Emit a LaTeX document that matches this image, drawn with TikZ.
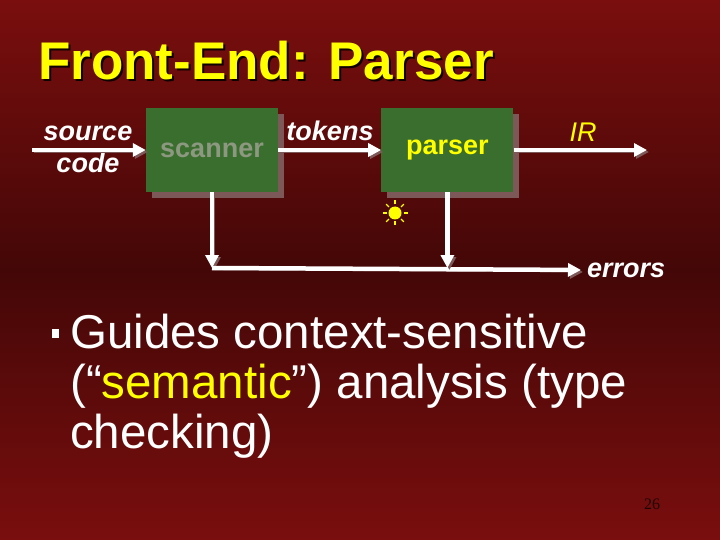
\documentclass[tikz,border=0pt]{standalone}
\usepackage{fontspec}
\setmainfont{Liberation Sans}
\newfontfamily\numfont{Liberation Serif}
\usetikzlibrary{arrows.meta, positioning, shadows}
\definecolor{slidered}{RGB}{122,14,14}
\definecolor{slidedark}{RGB}{68,7,7}
\definecolor{boxgreen}{RGB}{58,110,46}
\definecolor{boxshadow}{RGB}{125,88,88}
\definecolor{txtyellow}{RGB}{255,255,0}
\definecolor{dimgrey}{RGB}{140,152,128}
\definecolor{pagedark}{RGB}{30,3,3}

\begin{document}
\begin{tikzpicture}[x=1pt, y=-1pt,
    box/.style={rectangle, fill=boxgreen, minimum width=132pt, minimum height=84pt, inner sep=0pt, font=\fontsize{27}{30}\selectfont\bfseries, drop shadow={shadow xshift=6pt, shadow yshift=-6pt, fill=boxshadow, opacity=1}},
    lbl/.style={font=\fontsize{27}{29}\selectfont\bfseries\itshape, text=white, inner sep=0pt, align=center},
    flow/.style={-{Triangle[length=13pt,width=13pt]}, line width=4.5pt, white, preaction={draw=boxshadow, transform canvas={shift={(2pt,-2pt)}}}},
  ]
    \shade[top color=slidered, bottom color=slidered, middle color=slidedark] (0,0) rectangle (720,540);
    \useasboundingbox (0,0) rectangle (720,540);

    % title with shadow
    \node[anchor=base west, text=black!80!slidedark, font=\fontsize{53}{56}\selectfont\bfseries, inner sep=0pt] (titleshadow) at (40,82) {Front-End: Parser};
    \node[anchor=base west, text=txtyellow, font=\fontsize{53}{56}\selectfont\bfseries, inner sep=0pt] (title) at (38,80) {Front-End: Parser};

    % pipeline
    \node[box, text=dimgrey] (scanner) at (212,150) {\raisebox{-2pt}{scanner}};
    \node[box, text=txtyellow, right=103pt of scanner] (parser) {\raisebox{-2pt}{parser}};
    \coordinate (src) at (32,150);
    \coordinate (irend) at (647,150);
    \node[lbl, font=\fontsize{27}{32}\selectfont\bfseries\itshape] (srclbl) at (88,149) {source\\code};
    \node[lbl] (tokens) at (330,131) {tokens};
    \node[lbl, font=\fontsize{27}{29}\selectfont\itshape, text=txtyellow] (ir) at (583,132) {IR};
    \node[lbl, anchor=west] (errors) at (587,270) {errors};
    \coordinate (elbow) at (212,268);

    \draw[flow] (src) -- (scanner);
    \draw[flow] (scanner) -- (parser);
    \draw[flow] (parser.east) -- (irend);
    \draw[flow] (scanner.south) -- (elbow);
    \draw[flow, shorten >=6pt] (elbow) -- (errors.west);
    \draw[flow] (parser.south) -- (parser.south |- elbow);

    % sun
    \node[circle, fill=txtyellow, minimum size=13pt, inner sep=0pt] (sun) at (395,213) {};
    \foreach \a in {0,45,...,315}
      \draw[txtyellow, line width=1.3pt] (sun.center) ++(\a:8.5) -- ++(\a:4);

    % bullet point
    \node[fill=white, minimum width=7pt, minimum height=9pt, inner sep=0pt] (bullet) at (55,333) {};
    \node[anchor=north west, align=left, text=white, font=\fontsize{47.5}{50}\selectfont, inner sep=0pt] (point) at (70,314) {Guides context-sensitive\\(“\textcolor{txtyellow}{semantic}”) analysis (type\\checking)};

    \node[text=pagedark, font=\numfont\fontsize{16}{16}\selectfont] (pagenum) at (652,504) {26};
  \end{tikzpicture}
\end{document}
